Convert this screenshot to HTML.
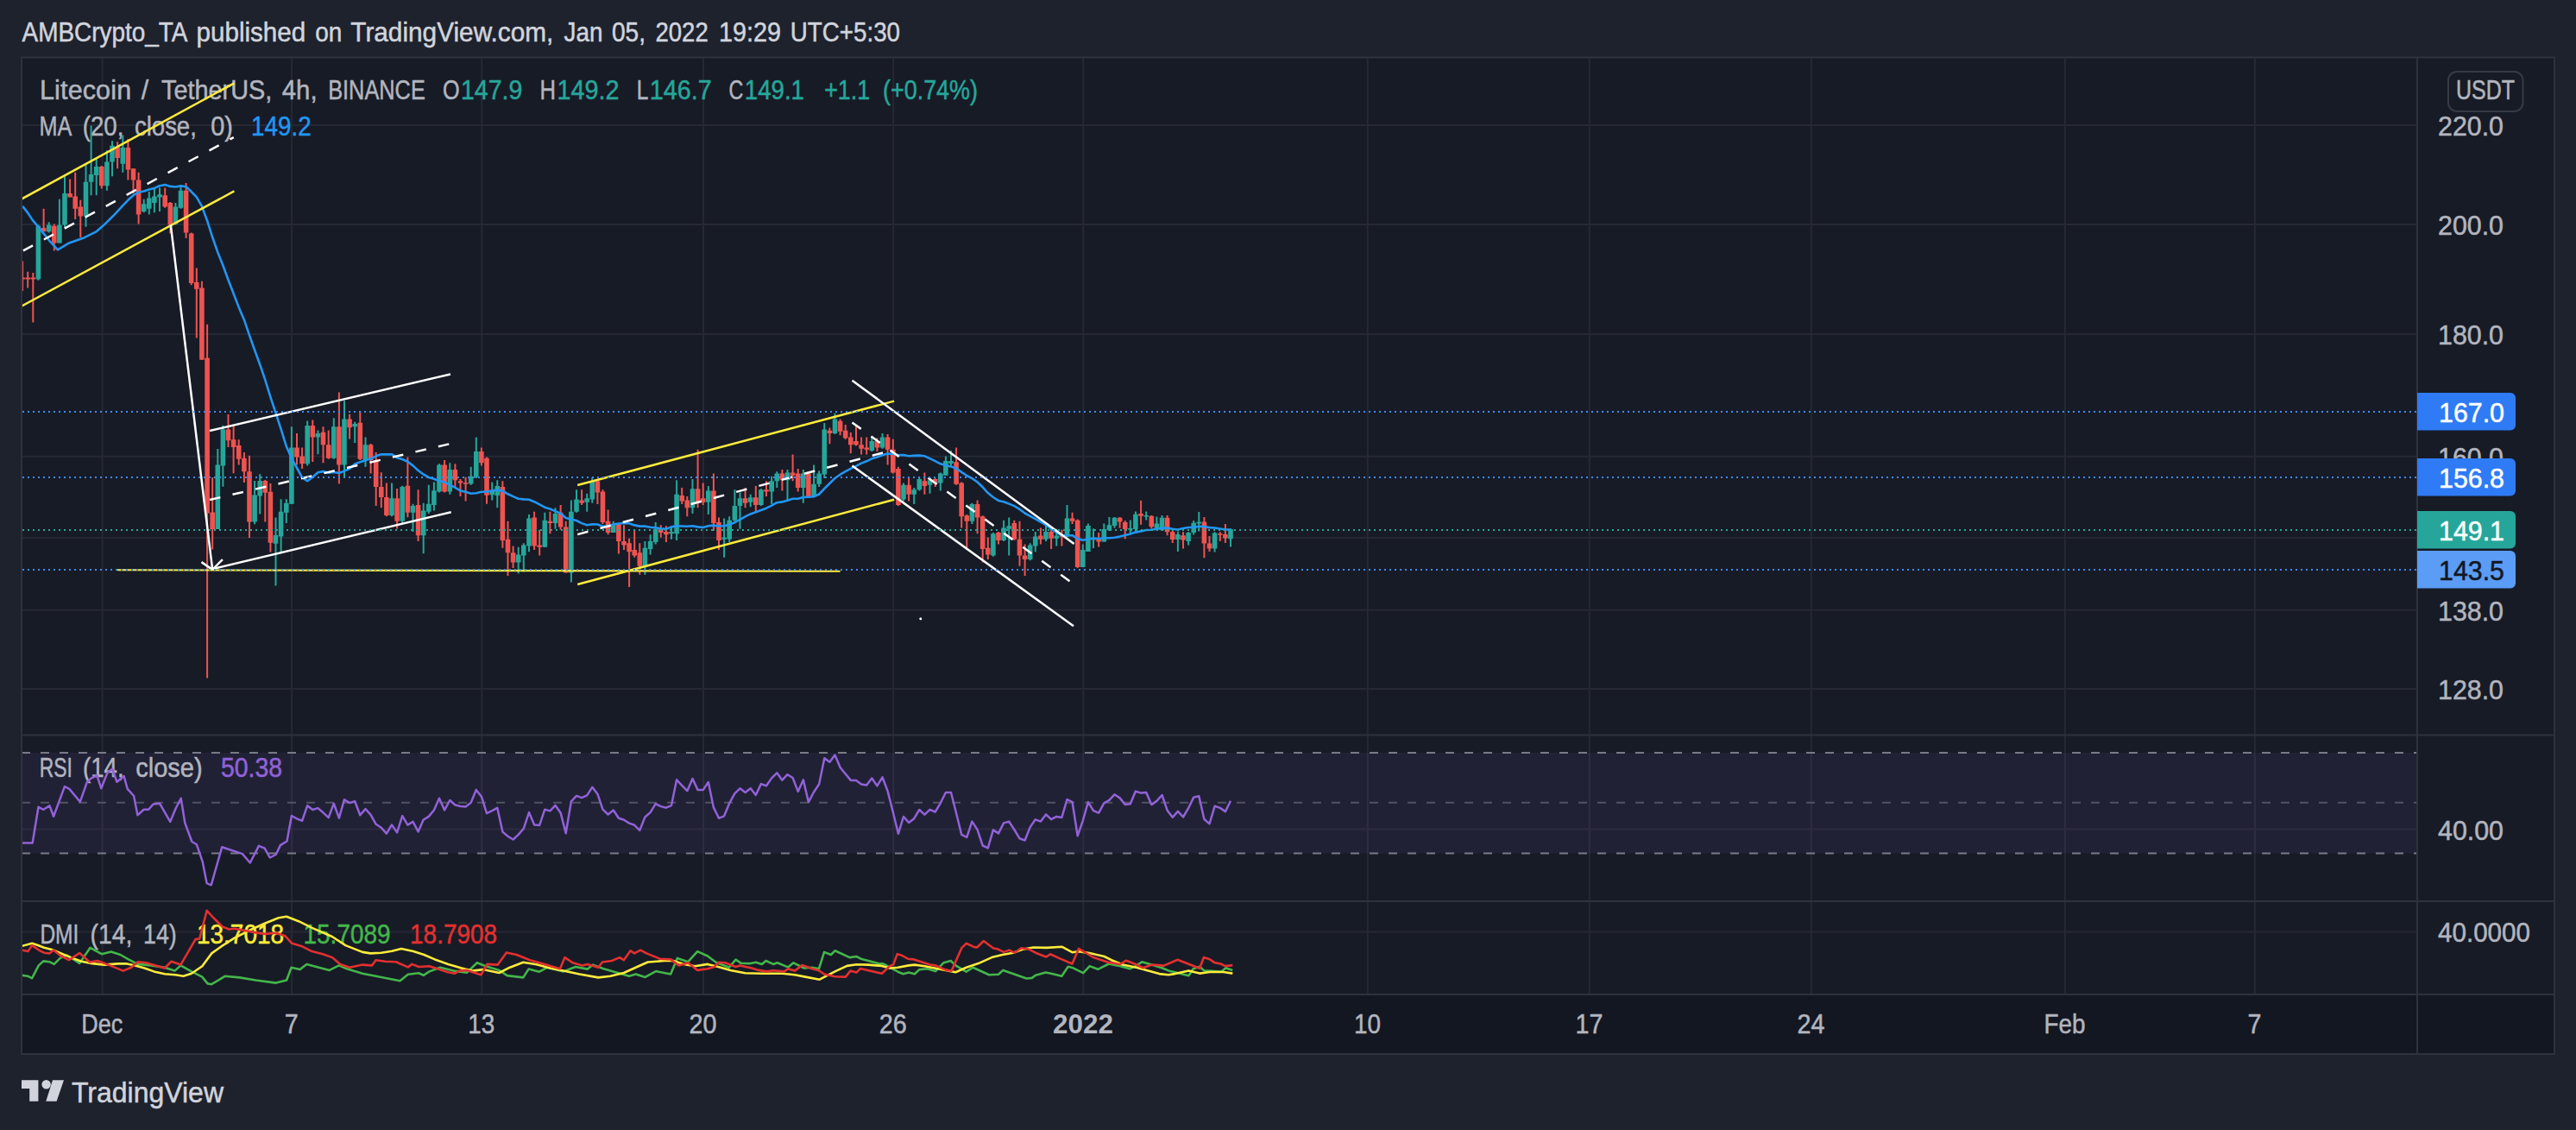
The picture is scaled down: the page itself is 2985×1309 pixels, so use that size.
<!DOCTYPE html>
<html><head><meta charset="utf-8"><style>html,body{margin:0;padding:0;background:#1e222d;overflow:hidden}svg{display:block}</style></head>
<body><svg width="2985" height="1309" viewBox="0 0 2985 1309" font-family='"Liberation Sans", sans-serif'><rect x="25" y="66.5" width="2935" height="1154.5" fill="#171b26"/><rect x="25" y="1152" width="2935" height="69" fill="#131722"/><defs><clipPath id="pp"><rect x="26" y="67.5" width="2774" height="783"/></clipPath><clipPath id="rp"><rect x="26" y="852.6" width="2774" height="190.4"/></clipPath><clipPath id="dp"><rect x="26" y="1045" width="2774" height="106"/></clipPath></defs><path d="M118.6 67V1152 M338.1 67V1152 M558.2 67V1152 M815.0 67V1152 M1035.2 67V1152 M1255.3 67V1152 M1584.8 67V1152 M1841.8 67V1152 M2098.8 67V1152 M2392.9 67V1152 M2612.9 67V1152 M25 144.9H2801 M25 260.1H2801 M25 387.0H2801 M25 528.8H2801 M25 623.0H2801 M25 706.8H2801 M25 797.9H2801 M25 960.6H2801 M25 1079.4H2801" stroke="#262834" stroke-width="2" fill="none"/><rect x="25" y="872" width="2776" height="116.6" fill="#7e57c2" fill-opacity="0.1"/><path d="M25 872H2801M25 988.6H2801" stroke="#787b86" stroke-width="2" stroke-dasharray="10 12" fill="none"/><path d="M25 929.7H2801" stroke="#787b86" stroke-opacity="0.55" stroke-width="2" stroke-dasharray="10 12" fill="none"/><path d="M25 66.5H2960V1221H25Z M2801 66.5V1221 M25 851.6H2960 M25 1044H2960 M25 1152H2960" stroke="#2e323d" stroke-width="2" fill="none"/><text x="25.5" y="48" font-size="30.5" fill="#d1d4dc" stroke="#d1d4dc" stroke-width="0.5" textLength="192.0" lengthAdjust="spacingAndGlyphs">AMBCrypto_TA</text><text x="227.5" y="48" font-size="30.5" fill="#d1d4dc" stroke="#d1d4dc" stroke-width="0.5" textLength="126.7" lengthAdjust="spacingAndGlyphs">published</text><text x="365.3" y="48" font-size="30.5" fill="#d1d4dc" stroke="#d1d4dc" stroke-width="0.5" textLength="31.1" lengthAdjust="spacingAndGlyphs">on</text><text x="406.3" y="48" font-size="30.5" fill="#d1d4dc" stroke="#d1d4dc" stroke-width="0.5" textLength="235.0" lengthAdjust="spacingAndGlyphs">TradingView.com,</text><text x="653.5" y="48" font-size="30.5" fill="#d1d4dc" stroke="#d1d4dc" stroke-width="0.5" textLength="44.9" lengthAdjust="spacingAndGlyphs">Jan</text><text x="708.9" y="48" font-size="30.5" fill="#d1d4dc" stroke="#d1d4dc" stroke-width="0.5" textLength="39.1" lengthAdjust="spacingAndGlyphs">05,</text><text x="759.5" y="48" font-size="30.5" fill="#d1d4dc" stroke="#d1d4dc" stroke-width="0.5" textLength="61.2" lengthAdjust="spacingAndGlyphs">2022</text><text x="832.9" y="48" font-size="30.5" fill="#d1d4dc" stroke="#d1d4dc" stroke-width="0.5" textLength="72.0" lengthAdjust="spacingAndGlyphs">19:29</text><text x="915.8" y="48" font-size="30.5" fill="#d1d4dc" stroke="#d1d4dc" stroke-width="0.5" textLength="127.2" lengthAdjust="spacingAndGlyphs">UTC+5:30</text><text x="46.0" y="115.2" font-size="30.5" fill="#b2b5be" stroke="#b2b5be" stroke-width="0.5" textLength="106.1" lengthAdjust="spacing">Litecoin</text><text x="163.8" y="115.2" font-size="30.5" fill="#b2b5be" stroke="#b2b5be" stroke-width="0.5">/</text><text x="187.0" y="115.2" font-size="30.5" fill="#b2b5be" stroke="#b2b5be" stroke-width="0.5" textLength="128.2" lengthAdjust="spacingAndGlyphs">TetherUS,</text><text x="326.8" y="115.2" font-size="30.5" fill="#b2b5be" stroke="#b2b5be" stroke-width="0.5" textLength="40.8" lengthAdjust="spacingAndGlyphs">4h,</text><text x="380.2" y="115.2" font-size="30.5" fill="#b2b5be" stroke="#b2b5be" stroke-width="0.5" textLength="112.6" lengthAdjust="spacingAndGlyphs">BINANCE</text><text x="513.0" y="115.2" font-size="30.5" fill="#b2b5be" stroke="#b2b5be" stroke-width="0.5" textLength="19.6" lengthAdjust="spacingAndGlyphs">O</text><text x="534.0" y="115.2" font-size="30.5" fill="#26a69a" stroke="#26a69a" stroke-width="0.5" textLength="71.4" lengthAdjust="spacingAndGlyphs">147.9</text><text x="625.5" y="115.2" font-size="30.5" fill="#b2b5be" stroke="#b2b5be" stroke-width="0.5" textLength="18.5" lengthAdjust="spacingAndGlyphs">H</text><text x="645.4" y="115.2" font-size="30.5" fill="#26a69a" stroke="#26a69a" stroke-width="0.5" textLength="72.0" lengthAdjust="spacingAndGlyphs">149.2</text><text x="737.8" y="115.2" font-size="30.5" fill="#b2b5be" stroke="#b2b5be" stroke-width="0.5" textLength="13.6" lengthAdjust="spacingAndGlyphs">L</text><text x="752.7" y="115.2" font-size="30.5" fill="#26a69a" stroke="#26a69a" stroke-width="0.5" textLength="72.0" lengthAdjust="spacingAndGlyphs">146.7</text><text x="844.6" y="115.2" font-size="30.5" fill="#b2b5be" stroke="#b2b5be" stroke-width="0.5" textLength="16.8" lengthAdjust="spacingAndGlyphs">C</text><text x="862.8" y="115.2" font-size="30.5" fill="#26a69a" stroke="#26a69a" stroke-width="0.5" textLength="69.2" lengthAdjust="spacingAndGlyphs">149.1</text><text x="955.2" y="115.2" font-size="30.5" fill="#26a69a" stroke="#26a69a" stroke-width="0.5" textLength="53.0" lengthAdjust="spacingAndGlyphs">+1.1</text><text x="1023.0" y="115.2" font-size="30.5" fill="#26a69a" stroke="#26a69a" stroke-width="0.5" textLength="110.0" lengthAdjust="spacingAndGlyphs">(+0.74%)</text><text x="45.4" y="156.5" font-size="30.5" fill="#b2b5be" stroke="#b2b5be" stroke-width="0.5" textLength="37.8" lengthAdjust="spacingAndGlyphs">MA</text><text x="95.8" y="156.5" font-size="30.5" fill="#b2b5be" stroke="#b2b5be" stroke-width="0.5" textLength="47.6" lengthAdjust="spacingAndGlyphs">(20,</text><text x="156.0" y="156.5" font-size="30.5" fill="#b2b5be" stroke="#b2b5be" stroke-width="0.5" textLength="71.8" lengthAdjust="spacingAndGlyphs">close,</text><text x="244.3" y="156.5" font-size="30.5" fill="#b2b5be" stroke="#b2b5be" stroke-width="0.5" textLength="25.7" lengthAdjust="spacingAndGlyphs">0)</text><text x="291.0" y="156.5" font-size="30.5" fill="#2196f3" stroke="#2196f3" stroke-width="0.5" textLength="69.8" lengthAdjust="spacingAndGlyphs">149.2</text><text x="45.8" y="900.3" font-size="30.5" fill="#b2b5be" stroke="#b2b5be" stroke-width="0.5" textLength="38.1" lengthAdjust="spacingAndGlyphs">RSI</text><text x="96.1" y="900.3" font-size="30.5" fill="#b2b5be" stroke="#b2b5be" stroke-width="0.5" textLength="47.5" lengthAdjust="spacingAndGlyphs">(14,</text><text x="157.2" y="900.3" font-size="30.5" fill="#b2b5be" stroke="#b2b5be" stroke-width="0.5" textLength="77.5" lengthAdjust="spacingAndGlyphs">close)</text><text x="255.9" y="900.3" font-size="30.5" fill="#9162d8" stroke="#9162d8" stroke-width="0.5" textLength="71.1" lengthAdjust="spacingAndGlyphs">50.38</text><text x="46.4" y="1092.8" font-size="30.5" fill="#b2b5be" stroke="#b2b5be" stroke-width="0.5" textLength="45.0" lengthAdjust="spacingAndGlyphs">DMI</text><text x="104.6" y="1092.8" font-size="30.5" fill="#b2b5be" stroke="#b2b5be" stroke-width="0.5" textLength="48.9" lengthAdjust="spacingAndGlyphs">(14,</text><text x="166.0" y="1092.8" font-size="30.5" fill="#b2b5be" stroke="#b2b5be" stroke-width="0.5" textLength="38.8" lengthAdjust="spacingAndGlyphs">14)</text><text x="228.0" y="1092.8" font-size="30.5" fill="#ffeb3b" stroke="#ffeb3b" stroke-width="0.5" textLength="101.0" lengthAdjust="spacingAndGlyphs">13.7018</text><text x="351.5" y="1092.8" font-size="30.5" fill="#43b64a" stroke="#43b64a" stroke-width="0.5" textLength="101.1" lengthAdjust="spacingAndGlyphs">15.7089</text><text x="475.1" y="1092.8" font-size="30.5" fill="#e3302f" stroke="#e3302f" stroke-width="0.5" textLength="100.9" lengthAdjust="spacingAndGlyphs">18.7908</text><g clip-path="url(#pp)"><path d="M44.4 260.6V324.7 M56.7 257.3V269.4 M68.9 230.7V281.6 M75.0 204.2V263.9 M99.5 189.8V262.8 M105.6 145.5V226.3 M111.7 183.1V226.3 M123.9 174.3V220.8 M130.0 163.2V204.2 M142.3 156.6V199.7 M166.7 230.7V246.2 M172.8 221.9V248.4 M178.9 218.5V246.2 M185.0 217.4V245.1 M203.4 235.1V260.6 M209.5 215.2V241.8 M252.3 520.0V613.0 M258.4 492.7V563.8 M295.1 557.0V607.3 M301.2 549.2V595.6 M319.5 599.5V678.4 M325.6 578.3V641.3 M331.8 578.3V605.9 M337.9 494.2V583.8 M356.2 487.6V539.6 M368.4 498.6V526.3 M386.8 484.2V531.8 M399.0 464.3V553.9 M411.2 488.7V513.0 M423.5 506.4V540.7 M454.0 559.5V598.2 M466.2 562.8V605.9 M478.5 583.8V615.9 M490.7 582.7V641.3 M496.8 561.7V594.9 M502.9 558.4V591.5 M509.0 537.3V570.5 M521.3 536.2V572.7 M545.7 540.7V561.7 M551.8 506.4V553.9 M570.2 558.5V579.5 M576.3 556.2V588.3 M600.7 633.7V664.6 M606.8 629.2V662.4 M613.0 596.1V639.2 M631.3 593.8V633.7 M643.5 588.3V612.7 M661.9 579.5V674.6 M668.0 567.3V593.8 M680.2 571.7V592.7 M686.3 552.9V582.8 M710.8 603.8V617.1 M747.4 627.0V665.8 M753.6 619.3V642.5 M759.7 604.9V630.4 M778.0 610.4V624.8 M784.1 556.2V625.9 M802.5 555.1V595.0 M820.8 562.9V596.1 M839.1 600.5V645.8 M845.2 598.3V628.1 M851.4 567.3V603.8 M857.5 570.6V612.7 M869.7 572.8V587.2 M881.9 566.2V586.1 M894.2 551.8V583.9 M900.3 546.3V565.1 M912.5 544.1V580.6 M930.8 544.1V582.8 M943.1 538.5V575.0 M949.2 545.2V564.0 M955.3 489.9V554.0 M967.5 478.8V503.1 M1010.3 505.4V523.1 M1022.5 502.0V519.7 M1047.0 559.6V580.6 M1059.2 565.1V583.9 M1065.3 552.9V568.4 M1077.5 552.9V571.7 M1089.8 547.4V568.4 M1095.9 528.6V550.7 M1102.0 521.9V539.6 M1126.4 582.8V607.1 M1150.9 617.1V644.7 M1163.1 602.7V627.0 M1169.2 599.4V643.6 M1193.7 629.2V649.2 M1199.8 616.0V639.2 M1212.0 607.1V627.0 M1224.3 612.7V632.6 M1236.5 585.0V622.6 M1254.8 630.4V656.9 M1260.9 606.4V638.9 M1267.0 612.3V634.9 M1279.3 606.4V627.6 M1285.4 599.1V615.0 M1291.5 599.1V611.7 M1309.8 602.4V617.6 M1315.9 592.4V616.3 M1328.2 592.4V602.4 M1340.4 598.4V612.3 M1346.5 597.1V615.0 M1364.9 615.6V638.9 M1377.1 616.3V631.6 M1383.2 603.0V619.6 M1389.3 593.1V615.6 M1407.6 616.3V639.5 M1426.0 612.3V633.6" stroke="#26a69a" stroke-width="2" fill="none"/><path d="M26.1 302.6V336.9 M32.2 314.8V333.6 M38.3 315.9V373.4 M50.6 241.8V268.3 M62.8 259.5V290.4 M81.1 207.5V228.5 M87.2 199.7V253.9 M93.3 231.8V275.0 M117.8 192.0V218.5 M136.1 164.3V195.3 M148.4 161.0V208.6 M154.5 195.3V224.1 M160.6 199.7V259.5 M191.2 217.4V240.7 M197.3 234.0V270.5 M215.6 211.9V276.1 M221.7 269.4V330.3 M227.8 310.5V391.4 M233.9 325.8V416.8 M240.1 375.8V785.5 M246.2 553.0V636.5 M264.5 480.0V518.0 M270.6 491.8V548.3 M276.7 509.3V538.5 M282.9 523.9V559.0 M289.0 527.8V622.9 M307.3 556.0V604.4 M313.4 560.0V639.4 M344.0 501.9V538.5 M350.1 518.5V542.9 M362.3 486.5V535.1 M374.5 494.2V536.2 M380.7 498.6V531.8 M392.9 454.4V560.6 M405.1 479.8V508.6 M417.3 476.5V532.9 M429.6 514.1V548.4 M435.7 524.1V586.0 M441.8 547.3V588.2 M447.9 559.5V598.2 M460.1 566.1V612.6 M472.4 529.6V599.3 M484.6 567.2V626.9 M515.1 532.9V570.5 M527.4 537.3V563.9 M533.5 555.0V575.0 M539.6 552.8V580.5 M557.9 518.5V539.6 M564.0 529.6V583.8 M582.4 557.3V634.8 M588.5 603.8V666.9 M594.6 632.6V658.0 M619.1 592.7V637.0 M625.2 613.8V643.6 M637.4 592.7V618.2 M649.6 585.0V613.8 M655.7 603.8V663.5 M674.1 567.3V585.0 M692.4 556.2V583.9 M698.5 567.3V607.1 M704.6 590.5V619.3 M716.9 606.0V641.4 M723.0 608.2V637.0 M729.1 623.7V680.1 M735.2 613.8V645.8 M741.3 629.2V665.8 M765.8 608.2V622.6 M771.9 609.3V628.1 M790.2 565.1V583.9 M796.3 575.0V598.3 M808.6 520.8V588.3 M814.7 559.6V585.0 M826.9 548.5V614.9 M833.0 599.4V637.0 M863.6 565.1V588.3 M875.8 562.9V592.7 M888.0 557.3V575.0 M906.4 544.1V568.4 M918.6 526.4V557.3 M924.7 543.0V569.5 M936.9 547.4V576.2 M961.4 495.4V514.2 M973.6 485.4V504.2 M979.7 492.1V508.7 M985.8 500.9V525.3 M992.0 493.2V516.4 M998.1 506.5V526.4 M1004.2 506.5V526.4 M1016.4 507.6V523.1 M1028.6 503.1V538.5 M1034.8 508.7V548.5 M1040.9 540.8V586.1 M1053.1 554.0V580.6 M1071.4 547.4V572.8 M1083.7 554.0V564.0 M1108.1 518.6V561.8 M1114.2 558.5V611.5 M1120.3 596.1V637.0 M1132.6 579.5V618.2 M1138.7 597.2V651.4 M1144.8 622.6V648.1 M1157.0 616.0V630.4 M1175.3 602.7V625.9 M1181.5 603.8V655.8 M1187.6 630.4V666.9 M1205.9 611.5V630.4 M1218.1 612.7V635.9 M1230.4 613.8V632.6 M1242.6 593.8V607.1 M1248.7 601.6V658.0 M1273.2 617.0V633.6 M1297.6 599.1V611.7 M1303.7 603.0V624.3 M1322.1 579.8V607.7 M1334.3 597.1V612.3 M1352.6 597.1V620.3 M1358.7 614.3V628.9 M1371.0 616.3V635.6 M1395.4 599.1V646.2 M1401.5 621.0V638.9 M1413.8 616.3V626.9 M1419.9 607.0V628.9" stroke="#ef5350" stroke-width="2" fill="none"/><path d="M41.6 261.7h5.6V323.6h-5.6Z M53.9 260.6h5.6V268.3h-5.6Z M66.1 260.6h5.6V281.6h-5.6Z M72.2 224.1h5.6V260.6h-5.6Z M96.7 210.8h5.6V250.6h-5.6Z M102.8 201.9h5.6V210.8h-5.6Z M108.9 193.1h5.6V203.1h-5.6Z M121.1 187.6h5.6V215.2h-5.6Z M127.2 168.8h5.6V187.6h-5.6Z M139.5 171.0h5.6V189.8h-5.6Z M163.9 236.2h5.6V245.1h-5.6Z M170.0 229.6h5.6V241.8h-5.6Z M176.1 227.4h5.6V235.1h-5.6Z M182.2 225.2h5.6V228.5h-5.6Z M200.6 239.6h5.6V259.5h-5.6Z M206.7 220.8h5.6V240.7h-5.6Z M249.5 538.5h5.6V613.0h-5.6Z M255.6 497.6h5.6V539.5h-5.6Z M292.3 573.6h5.6V604.4h-5.6Z M298.4 557.0h5.6V574.6h-5.6Z M316.7 620.0h5.6V629.7h-5.6Z M322.8 592.7h5.6V621.4h-5.6Z M329.0 582.7h5.6V593.8h-5.6Z M335.1 518.5h5.6V583.8h-5.6Z M353.4 493.1h5.6V537.3h-5.6Z M365.6 501.9h5.6V506.4h-5.6Z M384.0 494.2h5.6V530.7h-5.6Z M396.2 485.4h5.6V538.5h-5.6Z M408.4 490.9h5.6V494.2h-5.6Z M420.7 515.2h5.6V532.9h-5.6Z M451.2 577.2h5.6V597.1h-5.6Z M463.4 563.9h5.6V603.7h-5.6Z M475.7 586.0h5.6V593.8h-5.6Z M487.9 591.5h5.6V620.3h-5.6Z M494.0 583.8h5.6V592.7h-5.6Z M500.1 568.3h5.6V584.9h-5.6Z M506.2 538.5h5.6V569.4h-5.6Z M518.5 544.0h5.6V569.4h-5.6Z M542.9 551.7h5.6V560.6h-5.6Z M549.0 523.0h5.6V552.8h-5.6Z M567.4 568.4h5.6V573.3h-5.6Z M573.5 562.9h5.6V573.9h-5.6Z M597.9 642.5h5.6V651.4h-5.6Z M604.0 631.5h5.6V643.6h-5.6Z M610.2 600.5h5.6V632.6h-5.6Z M628.5 602.7h5.6V633.7h-5.6Z M640.7 595.0h5.6V606.0h-5.6Z M659.1 592.7h5.6V663.5h-5.6Z M665.2 578.4h5.6V592.7h-5.6Z M677.4 577.3h5.6V581.7h-5.6Z M683.5 557.3h5.6V578.4h-5.6Z M708.0 608.2h5.6V617.1h-5.6Z M744.6 634.8h5.6V655.8h-5.6Z M750.8 627.0h5.6V635.9h-5.6Z M756.9 612.7h5.6V628.1h-5.6Z M775.2 616.0h5.6V618.2h-5.6Z M781.3 572.8h5.6V618.2h-5.6Z M799.7 566.2h5.6V588.3h-5.6Z M818.0 568.4h5.6V581.7h-5.6Z M836.3 622.6h5.6V624.8h-5.6Z M842.4 602.7h5.6V624.8h-5.6Z M848.6 586.1h5.6V602.7h-5.6Z M854.7 577.3h5.6V586.1h-5.6Z M866.9 576.2h5.6V581.7h-5.6Z M879.1 567.3h5.6V585.0h-5.6Z M891.4 557.3h5.6V569.5h-5.6Z M897.5 548.5h5.6V557.3h-5.6Z M909.7 547.4h5.6V556.2h-5.6Z M928.0 548.5h5.6V565.1h-5.6Z M940.3 560.7h5.6V575.0h-5.6Z M946.4 548.5h5.6V560.7h-5.6Z M952.5 497.6h5.6V549.6h-5.6Z M964.7 485.4h5.6V502.0h-5.6Z M1007.5 510.9h5.6V521.9h-5.6Z M1019.7 506.5h5.6V518.6h-5.6Z M1044.2 561.8h5.6V578.4h-5.6Z M1056.4 567.3h5.6V572.8h-5.6Z M1062.5 555.1h5.6V567.3h-5.6Z M1074.7 556.2h5.6V561.8h-5.6Z M1087.0 548.5h5.6V559.6h-5.6Z M1093.1 534.1h5.6V550.7h-5.6Z M1099.2 534.1h5.6V537.0h-5.6Z M1123.6 583.9h5.6V603.8h-5.6Z M1148.1 618.2h5.6V643.6h-5.6Z M1160.3 611.5h5.6V625.9h-5.6Z M1166.4 609.3h5.6V612.7h-5.6Z M1190.9 631.5h5.6V648.1h-5.6Z M1197.0 621.5h5.6V632.6h-5.6Z M1209.2 616.0h5.6V624.8h-5.6Z M1221.5 620.4h5.6V623.7h-5.6Z M1233.7 600.5h5.6V621.5h-5.6Z M1252.0 637.0h5.6V656.9h-5.6Z M1258.1 609.0h5.6V638.9h-5.6Z M1264.2 623.6h5.6V625.6h-5.6Z M1276.5 613.0h5.6V627.6h-5.6Z M1282.6 608.3h5.6V614.3h-5.6Z M1288.7 599.7h5.6V609.0h-5.6Z M1307.0 611.9h5.6V613.4h-5.6Z M1313.1 595.7h5.6V613.0h-5.6Z M1325.4 597.0h5.6V598.5h-5.6Z M1337.6 606.4h5.6V611.7h-5.6Z M1343.7 599.7h5.6V614.3h-5.6Z M1362.1 619.0h5.6V624.9h-5.6Z M1374.3 617.0h5.6V626.9h-5.6Z M1380.4 605.7h5.6V617.0h-5.6Z M1386.5 604.4h5.6V606.4h-5.6Z M1404.8 617.6h5.6V635.6h-5.6Z M1423.2 613.0h5.6V624.3h-5.6Z" fill="#26a69a"/><path d="M23.3 321.4h5.6V323.6h-5.6Z M29.4 321.4h5.6V323.6h-5.6Z M35.5 321.4h5.6V323.6h-5.6Z M47.8 263.9h5.6V268.3h-5.6Z M60.0 261.7h5.6V281.6h-5.6Z M78.3 224.1h5.6V228.5h-5.6Z M84.4 227.4h5.6V241.8h-5.6Z M90.5 239.6h5.6V250.6h-5.6Z M115.0 193.1h5.6V215.2h-5.6Z M133.3 169.9h5.6V183.1h-5.6Z M145.6 171.0h5.6V196.4h-5.6Z M151.7 195.3h5.6V208.6h-5.6Z M157.8 208.6h5.6V248.4h-5.6Z M188.4 226.3h5.6V239.6h-5.6Z M194.5 235.1h5.6V260.6h-5.6Z M212.8 220.8h5.6V269.4h-5.6Z M218.9 270.5h5.6V328.1h-5.6Z M225.0 327.0h5.6V334.7h-5.6Z M231.1 333.6h5.6V416.8h-5.6Z M237.3 414.8h5.6V594.6h-5.6Z M243.4 593.6h5.6V613.0h-5.6Z M261.7 497.6h5.6V510.3h-5.6Z M267.8 509.3h5.6V518.0h-5.6Z M273.9 516.0h5.6V531.7h-5.6Z M280.1 530.7h5.6V546.3h-5.6Z M286.2 546.3h5.6V604.4h-5.6Z M304.5 557.0h5.6V570.7h-5.6Z M310.6 569.7h5.6V628.7h-5.6Z M341.2 518.5h5.6V529.6h-5.6Z M347.3 528.5h5.6V537.3h-5.6Z M359.5 493.1h5.6V506.4h-5.6Z M371.7 500.8h5.6V515.2h-5.6Z M377.9 515.2h5.6V530.7h-5.6Z M390.1 494.2h5.6V538.5h-5.6Z M402.3 485.4h5.6V495.3h-5.6Z M414.5 489.8h5.6V531.8h-5.6Z M426.8 515.2h5.6V532.9h-5.6Z M432.9 532.9h5.6V563.9h-5.6Z M439.0 563.9h5.6V576.1h-5.6Z M445.1 576.1h5.6V597.1h-5.6Z M457.3 577.2h5.6V603.7h-5.6Z M469.6 562.8h5.6V593.8h-5.6Z M481.8 584.9h5.6V620.3h-5.6Z M512.3 538.5h5.6V569.4h-5.6Z M524.6 544.0h5.6V556.2h-5.6Z M530.7 557.3h5.6V559.5h-5.6Z M536.8 559.3h5.6V560.8h-5.6Z M555.1 523.0h5.6V536.2h-5.6Z M561.2 530.7h5.6V573.8h-5.6Z M579.6 564.0h5.6V625.9h-5.6Z M585.7 624.8h5.6V640.3h-5.6Z M591.8 640.3h5.6V651.4h-5.6Z M616.3 599.4h5.6V632.6h-5.6Z M622.4 631.5h5.6V633.7h-5.6Z M634.6 603.8h5.6V606.0h-5.6Z M646.8 593.8h5.6V610.4h-5.6Z M652.9 610.4h5.6V663.5h-5.6Z M671.3 579.5h5.6V582.8h-5.6Z M689.6 557.3h5.6V570.6h-5.6Z M695.7 569.5h5.6V604.9h-5.6Z M701.8 603.8h5.6V617.1h-5.6Z M714.1 607.1h5.6V627.0h-5.6Z M720.2 627.0h5.6V631.5h-5.6Z M726.3 629.2h5.6V639.2h-5.6Z M732.4 637.0h5.6V643.6h-5.6Z M738.5 640.3h5.6V655.8h-5.6Z M763.0 612.7h5.6V617.1h-5.6Z M769.1 616.0h5.6V619.3h-5.6Z M787.4 573.9h5.6V580.6h-5.6Z M793.5 579.5h5.6V588.3h-5.6Z M805.8 566.2h5.6V581.7h-5.6Z M811.9 577.3h5.6V581.7h-5.6Z M824.1 568.4h5.6V606.0h-5.6Z M830.2 604.9h5.6V625.9h-5.6Z M860.8 577.3h5.6V582.8h-5.6Z M873.0 576.2h5.6V585.0h-5.6Z M885.2 567.3h5.6V569.5h-5.6Z M903.6 548.5h5.6V556.2h-5.6Z M915.8 547.4h5.6V550.7h-5.6Z M921.9 548.5h5.6V565.1h-5.6Z M934.1 548.5h5.6V575.0h-5.6Z M958.6 498.7h5.6V502.0h-5.6Z M970.8 487.7h5.6V499.8h-5.6Z M976.9 498.7h5.6V507.6h-5.6Z M983.0 506.5h5.6V515.3h-5.6Z M989.2 510.9h5.6V515.3h-5.6Z M995.3 515.3h5.6V519.7h-5.6Z M1001.4 518.6h5.6V520.8h-5.6Z M1013.6 510.9h5.6V518.6h-5.6Z M1025.8 506.5h5.6V520.8h-5.6Z M1032.0 520.8h5.6V547.4h-5.6Z M1038.1 543.0h5.6V585.0h-5.6Z M1050.3 561.8h5.6V572.8h-5.6Z M1068.6 557.3h5.6V562.9h-5.6Z M1080.9 555.1h5.6V559.6h-5.6Z M1105.3 535.2h5.6V560.7h-5.6Z M1111.4 559.6h5.6V598.3h-5.6Z M1117.5 597.2h5.6V603.8h-5.6Z M1129.8 583.9h5.6V599.4h-5.6Z M1135.9 598.3h5.6V635.9h-5.6Z M1142.0 634.8h5.6V642.5h-5.6Z M1154.2 617.1h5.6V625.9h-5.6Z M1172.5 606.0h5.6V624.8h-5.6Z M1178.7 624.8h5.6V643.6h-5.6Z M1184.8 643.6h5.6V648.1h-5.6Z M1203.1 620.4h5.6V624.8h-5.6Z M1215.3 616.0h5.6V623.7h-5.6Z M1227.6 620.2h5.6V621.7h-5.6Z M1239.8 600.5h5.6V603.8h-5.6Z M1245.9 602.7h5.6V656.9h-5.6Z M1270.4 622.9h5.6V627.6h-5.6Z M1294.8 599.7h5.6V604.4h-5.6Z M1300.9 605.0h5.6V613.0h-5.6Z M1319.3 595.1h5.6V597.7h-5.6Z M1331.5 597.7h5.6V610.3h-5.6Z M1349.8 599.7h5.6V616.3h-5.6Z M1355.9 616.3h5.6V624.9h-5.6Z M1368.2 620.3h5.6V625.6h-5.6Z M1392.6 604.4h5.6V629.6h-5.6Z M1398.7 629.6h5.6V635.6h-5.6Z M1411.0 618.2h5.6V619.7h-5.6Z M1417.1 619.0h5.6V623.6h-5.6Z" fill="#ef5350"/><path d="M26.2 238.9 L32.4 246.9 L37.7 254.9 L43.0 261.1 L50.1 269.9 L57.2 278.8 L66.9 289.4 L80.2 281.4 L97.9 275.2 L112.0 268.1 L120.0 261.1 L131.5 249.8 L142.3 238.1 L148.4 231.8 L154.5 226.2 L160.6 222.7 L166.7 221.4 L172.8 219.5 L178.9 217.9 L185.0 215.2 L191.2 214.1 L197.3 215.9 L203.4 216.5 L209.5 215.4 L215.6 216.3 L221.7 222.0 L227.8 228.4 L233.9 238.9 L240.1 255.7 L246.2 274.8 L252.3 292.3 L258.4 307.5 L264.5 324.2 L270.6 340.0 L276.7 355.9 L282.9 370.4 L289.0 388.3 L295.1 405.5 L301.2 422.3 L307.3 440.1 L313.4 459.9 L319.5 478.4 L325.6 497.2 L331.8 517.0 L337.9 530.9 L344.0 542.0 L350.1 553.1 L356.2 557.2 L362.3 552.8 L368.4 547.3 L374.5 546.1 L380.7 547.8 L386.8 547.0 L392.9 548.0 L399.0 545.6 L405.1 543.0 L411.2 537.4 L417.3 535.3 L423.5 533.2 L429.6 531.4 L435.7 528.3 L441.8 526.2 L447.9 526.4 L454.0 526.2 L460.1 530.3 L466.2 532.0 L472.4 534.7 L478.5 539.4 L484.6 545.0 L490.7 549.5 L496.8 552.9 L502.9 554.8 L509.0 557.1 L515.1 558.6 L521.3 561.7 L527.4 564.8 L533.5 568.4 L539.6 569.8 L545.7 571.7 L551.8 571.2 L557.9 569.8 L564.0 569.7 L570.2 568.3 L576.3 567.5 L582.4 568.6 L588.5 572.3 L594.6 575.1 L600.7 577.8 L606.8 578.4 L613.0 578.8 L619.1 581.2 L625.2 584.4 L631.3 587.7 L637.4 589.5 L643.5 592.1 L649.6 594.8 L655.7 600.0 L661.9 601.6 L668.0 603.0 L674.1 606.1 L680.2 608.3 L686.3 607.4 L692.4 607.5 L698.5 609.7 L704.6 609.2 L710.8 607.6 L716.9 606.5 L723.0 605.9 L729.1 606.3 L735.2 608.4 L741.3 609.6 L747.4 609.6 L753.6 610.8 L759.7 611.2 L765.8 612.3 L771.9 612.7 L778.0 610.4 L784.1 609.4 L790.2 609.5 L796.3 609.8 L802.5 609.2 L808.6 610.4 L814.7 611.0 L820.8 609.2 L826.9 608.6 L833.0 609.5 L839.1 609.3 L845.2 607.8 L851.4 605.2 L857.5 601.9 L863.6 598.3 L869.7 595.4 L875.8 593.3 L881.9 591.0 L888.0 588.7 L894.2 585.6 L900.3 582.2 L906.4 581.4 L912.5 579.7 L918.6 577.8 L924.7 577.7 L930.8 576.0 L936.9 575.7 L943.1 575.3 L949.2 572.5 L955.3 566.0 L961.4 560.0 L967.5 554.0 L973.6 549.7 L979.7 546.2 L985.8 542.8 L992.0 539.8 L998.1 536.6 L1004.2 534.3 L1010.3 531.3 L1016.4 529.4 L1022.5 527.3 L1028.6 525.6 L1034.8 525.6 L1040.9 527.2 L1047.0 527.1 L1053.1 528.2 L1059.2 527.9 L1065.3 527.6 L1071.4 528.3 L1077.5 531.2 L1083.7 534.1 L1089.8 537.3 L1095.9 539.1 L1102.0 540.4 L1108.1 542.7 L1114.2 546.8 L1120.3 551.0 L1126.4 554.1 L1132.6 558.5 L1138.7 564.3 L1144.8 571.1 L1150.9 576.0 L1157.0 579.9 L1163.1 581.2 L1169.2 583.6 L1175.3 586.1 L1181.5 589.9 L1187.6 594.5 L1193.7 597.9 L1199.8 601.2 L1205.9 604.5 L1212.0 608.0 L1218.1 612.6 L1224.3 617.0 L1230.4 620.1 L1236.5 620.2 L1242.6 620.2 L1248.7 623.9 L1254.8 625.8 L1260.9 624.4 L1267.0 623.5 L1273.2 624.0 L1279.3 623.3 L1285.4 623.2 L1291.5 622.7 L1297.6 621.6 L1303.7 620.1 L1309.8 618.4 L1315.9 616.6 L1322.1 615.4 L1328.2 614.0 L1334.3 613.7 L1340.4 612.8 L1346.5 611.8 L1352.6 611.5 L1358.7 612.8 L1364.9 613.5 L1371.0 612.0 L1377.1 611.0 L1383.2 610.8 L1389.3 609.9 L1395.4 610.0 L1401.5 611.1 L1407.6 611.5 L1413.8 612.5 L1419.9 613.5 L1426.0 613.5" stroke="#2196f3" stroke-width="2.6" fill="none" stroke-linejoin="round"/><path d="M0 244.2L271.4 96.3" stroke="#ffeb3b" stroke-width="2.5" fill="none"/><path d="M0 368.2L271.4 221.4" stroke="#ffeb3b" stroke-width="2.5" fill="none"/><path d="M26.9 290.4L270.8 159.1" stroke="#ffffff" stroke-width="2.5" fill="none" stroke-dasharray="12.7 14.5"/><path d="M197.8 260.5L246.2 659.9" stroke="#ffffff" stroke-width="2.5" fill="none"/><path d="M233.5 651.1L246.2 659.9" stroke="#ffffff" stroke-width="2.5" fill="none"/><path d="M257.9 648.2L246.2 659.9" stroke="#ffffff" stroke-width="2.5" fill="none"/><path d="M243 499L522 433.5" stroke="#ffffff" stroke-width="2.5" fill="none"/><path d="M248 658.7L522.7 593.2" stroke="#ffffff" stroke-width="2.5" fill="none"/><path d="M243 579L521.3 514.1" stroke="#ffffff" stroke-width="2.5" fill="none" stroke-dasharray="12.7 14.5"/><path d="M136 660.2L973.6 661.8" stroke="#ffeb3b" stroke-width="2.1" fill="none"/><path d="M669.2 562L1036.1 464.6" stroke="#ffeb3b" stroke-width="2.5" fill="none"/><path d="M669.2 677L1036.1 578.7" stroke="#ffeb3b" stroke-width="2.5" fill="none"/><path d="M669.2 619.1L1036 521" stroke="#ffffff" stroke-width="2.5" fill="none" stroke-dasharray="12.7 14.5"/><path d="M987.5 440.7L1244.6 630" stroke="#ffffff" stroke-width="2.5" fill="none"/><path d="M987.5 539.5L1244 725.3" stroke="#ffffff" stroke-width="2.5" fill="none"/><path d="M987.5 489.4L1241.8 674.9" stroke="#ffffff" stroke-width="2.5" fill="none" stroke-dasharray="12.7 14.5"/><circle cx="1066.8" cy="716.8" r="1.5" fill="#fff"/></g><path d="M26 477H2801M26 553H2801M26 660H2801" stroke="#3d8af7" stroke-width="2" stroke-dasharray="2 4" fill="none"/><path d="M26 614H2801" stroke="#26a69a" stroke-width="2" stroke-dasharray="2 4" fill="none"/><g clip-path="url(#rp)"><path d="M25.4 976.4 L37.7 976.4 L44.5 934.8 L50.4 937.8 L57.5 933.4 L62.1 945.7 L74.9 911.1 L80.3 913.9 L92.8 928.8 L101.0 905.7 L105.6 901.6 L112.4 898.4 L117.3 913.3 L124.6 894.8 L130.1 890.8 L135.5 905.7 L143.6 899.0 L147.7 913.9 L155.1 922.0 L159.4 944.3 L166.7 937.8 L172.2 937.8 L177.6 931.5 L185.0 930.7 L197.2 951.9 L203.4 937.0 L209.7 924.7 L214.3 953.3 L222.4 975.0 L227.9 978.3 L234.7 998.1 L239.6 1023.1 L244.7 1025.3 L257.2 981.3 L280.9 989.1 L289.8 999.5 L299.9 979.9 L306.7 982.6 L312.7 993.5 L319.7 990.0 L324.9 979.1 L332.5 974.5 L337.9 945.0 L344.0 948.4 L350.1 950.8 L356.2 933.2 L362.3 938.0 L368.4 936.1 L374.5 941.3 L380.7 947.1 L386.8 930.8 L392.9 947.6 L399.0 926.2 L405.1 930.1 L411.2 928.3 L417.3 944.3 L423.5 937.1 L429.6 943.9 L435.7 954.8 L441.8 958.8 L447.9 965.6 L454.0 955.5 L460.1 964.4 L466.2 945.1 L472.4 955.6 L478.5 951.9 L484.6 963.4 L490.7 949.6 L496.8 945.9 L502.9 938.5 L509.0 924.7 L515.1 938.4 L521.3 927.0 L527.4 932.5 L533.5 934.0 L539.6 934.5 L545.7 929.7 L551.8 914.9 L557.9 922.7 L564.0 942.1 L570.2 939.1 L576.3 935.9 L582.4 963.6 L588.5 968.7 L594.6 972.5 L600.7 966.9 L606.8 959.8 L613.0 941.1 L619.1 955.4 L625.2 955.9 L631.3 937.7 L637.4 939.4 L643.5 932.9 L649.6 941.4 L655.7 965.2 L661.9 928.3 L668.0 921.9 L674.1 924.1 L680.2 921.4 L686.3 911.8 L692.4 919.7 L698.5 937.7 L704.6 943.5 L710.8 938.5 L716.9 947.7 L723.0 949.8 L729.1 953.6 L735.2 955.8 L741.3 961.9 L747.4 946.5 L753.6 941.1 L759.7 931.2 L765.8 934.1 L771.9 935.7 L778.0 933.1 L784.1 903.3 L790.2 909.8 L796.3 916.2 L802.5 902.0 L808.6 915.1 L814.7 915.1 L820.8 906.0 L826.9 935.4 L833.0 947.8 L839.1 945.3 L845.2 930.5 L851.4 919.2 L857.5 913.3 L863.6 917.9 L869.7 913.2 L875.8 921.0 L881.9 908.1 L888.0 910.2 L894.2 901.4 L900.3 895.3 L906.4 903.7 L912.5 897.2 L918.6 901.0 L924.7 916.9 L930.8 903.4 L936.9 929.1 L943.1 917.5 L949.2 908.3 L955.3 878.3 L961.4 882.8 L967.5 874.5 L973.6 889.0 L979.7 896.5 L985.8 903.9 L992.0 903.9 L998.1 908.4 L1004.2 909.6 L1010.3 901.5 L1016.4 910.4 L1022.5 900.3 L1028.6 916.4 L1034.8 940.8 L1040.9 965.8 L1047.0 946.0 L1053.1 952.9 L1059.2 948.2 L1065.3 938.0 L1071.4 943.6 L1077.5 937.8 L1083.7 940.5 L1089.8 930.3 L1095.9 918.0 L1102.0 918.0 L1108.1 942.0 L1114.2 966.8 L1120.3 969.9 L1126.4 951.6 L1132.6 961.1 L1138.7 979.5 L1144.8 982.4 L1150.9 961.4 L1157.0 965.4 L1163.1 953.4 L1169.2 951.6 L1175.3 961.0 L1181.5 971.3 L1187.6 973.5 L1193.7 958.1 L1199.8 949.3 L1205.9 951.6 L1212.0 943.4 L1218.1 949.2 L1224.3 945.9 L1230.4 946.9 L1236.5 926.0 L1242.6 929.2 L1248.7 968.3 L1254.8 950.6 L1260.9 929.1 L1267.0 939.1 L1273.2 941.7 L1279.3 930.4 L1285.4 926.9 L1291.5 920.3 L1297.6 924.4 L1303.7 931.9 L1309.8 931.3 L1315.9 916.6 L1322.1 918.6 L1328.2 918.0 L1334.3 932.1 L1340.4 927.9 L1346.5 921.0 L1352.6 938.7 L1358.7 946.8 L1364.9 939.9 L1371.0 946.5 L1377.1 936.2 L1383.2 923.6 L1389.3 922.2 L1395.4 949.0 L1401.5 954.3 L1407.6 933.8 L1413.8 935.9 L1419.9 940.1 L1426.0 927.7" stroke="#9162d8" stroke-width="2.5" fill="none" stroke-linejoin="round"/></g><g clip-path="url(#dp)"><path d="M25.4 1129.8 L32.4 1130.8 L37.1 1133.2 L44.8 1118.4 L50.3 1113.4 L57.3 1114.2 L62.7 1116.9 L69.7 1109.9 L77.5 1106.5 L92.2 1115.8 L104.6 1097.8 L117.8 1105.2 L128.7 1102.4 L139.6 1106.0 L148.9 1111.4 L159.8 1116.9 L175.3 1118.4 L190.8 1120.7 L202.5 1124.6 L209.4 1118.4 L221.9 1125.4 L234.3 1131.6 L240.5 1139.4 L245.2 1140.2 L260.7 1130.8 L277.8 1132.4 L296.4 1135.5 L319.7 1138.6 L332.1 1135.5 L337.6 1120.7 L347.6 1123.1 L355.4 1116.9 L381.8 1123.9 L392.7 1118.4 L402.0 1122.3 L420.0 1127.7 L435.5 1130.8 L463.5 1136.3 L472.8 1128.8 L485.2 1127.3 L490.7 1129.8 L497.6 1125.4 L510.1 1120.7 L525.6 1124.6 L541.1 1126.6 L552.8 1115.3 L562.9 1119.2 L578.4 1123.9 L587.7 1130.1 L606.3 1132.4 L612.5 1122.6 L625.0 1125.7 L634.3 1120.7 L652.9 1125.4 L666.9 1120.0 L680.9 1122.6 L687.1 1117.6 L699.5 1122.3 L729.0 1130.8 L736.8 1128.5 L747.6 1131.9 L760.1 1125.1 L777.1 1128.5 L784.9 1109.9 L797.3 1114.2 L808.2 1102.1 L820.0 1107.5 L829.3 1114.5 L844.8 1120.7 L852.6 1111.7 L858.8 1115.8 L869.7 1116.1 L875.9 1114.8 L882.9 1116.9 L887.5 1113.0 L896.1 1116.9 L900.7 1115.3 L913.2 1120.4 L919.4 1115.3 L931.8 1121.5 L941.1 1120.7 L948.9 1122.3 L955.1 1102.9 L962.9 1106.0 L967.5 1101.3 L984.6 1109.1 L992.4 1108.0 L998.6 1111.1 L1018.8 1116.4 L1023.4 1116.4 L1040.5 1125.7 L1046.7 1128.2 L1052.9 1126.6 L1059.9 1128.2 L1065.3 1123.1 L1074.7 1122.3 L1084.0 1125.1 L1093.3 1115.3 L1101.8 1113.0 L1107.3 1118.4 L1119.7 1125.7 L1127.5 1120.7 L1146.1 1129.3 L1157.0 1128.8 L1162.4 1123.9 L1189.6 1133.5 L1195.8 1132.9 L1200.0 1129.7 L1211.7 1126.6 L1219.1 1128.1 L1230.3 1130.8 L1237.7 1119.7 L1242.5 1120.9 L1255.2 1127.1 L1262.7 1119.1 L1272.2 1122.8 L1285.0 1116.5 L1295.6 1118.6 L1309.4 1122.3 L1315.8 1119.1 L1323.2 1114.3 L1332.8 1117.0 L1346.6 1121.2 L1354.0 1124.4 L1362.5 1126.6 L1377.4 1130.3 L1382.7 1122.3 L1390.1 1119.7 L1395.4 1124.4 L1407.1 1125.0 L1415.6 1125.5 L1420.4 1121.2 L1428.3 1123.9" stroke="#43b64a" stroke-width="2.6" fill="none" stroke-linejoin="round"/><path d="M25.4 1095.9 L37.1 1092.8 L43.3 1094.7 L51.1 1097.8 L61.9 1100.6 L69.7 1104.0 L82.1 1109.1 L94.5 1113.8 L107.0 1116.1 L120.9 1117.6 L136.5 1116.4 L147.3 1116.4 L156.6 1118.4 L167.5 1121.5 L178.4 1125.4 L190.8 1128.2 L203.2 1129.3 L212.5 1130.8 L221.9 1127.7 L234.3 1119.2 L245.2 1104.4 L256.0 1096.7 L271.6 1086.6 L291.7 1076.5 L307.3 1069.5 L322.8 1063.3 L332.1 1061.7 L346.1 1067.2 L361.6 1074.9 L384.9 1085.0 L400.4 1095.1 L420.0 1102.9 L429.3 1104.4 L441.7 1103.7 L454.2 1101.8 L465.0 1099.0 L479.0 1102.1 L491.4 1106.0 L503.9 1111.4 L519.4 1116.9 L534.9 1121.5 L547.3 1124.6 L559.8 1123.1 L578.4 1127.0 L590.8 1120.7 L606.3 1114.8 L621.9 1117.3 L637.4 1121.5 L652.9 1124.6 L671.6 1128.5 L693.3 1132.4 L707.3 1130.8 L722.8 1127.0 L738.3 1120.0 L750.7 1114.5 L769.4 1113.0 L780.2 1113.0 L792.7 1116.9 L805.1 1119.2 L820.0 1116.9 L832.4 1120.0 L846.4 1123.9 L863.5 1127.3 L882.1 1127.7 L907.0 1127.7 L920.9 1129.3 L933.4 1131.6 L949.7 1134.7 L959.8 1129.3 L969.1 1124.6 L981.5 1118.9 L992.4 1117.3 L1006.3 1117.6 L1021.9 1118.9 L1031.2 1121.5 L1040.5 1120.7 L1052.9 1118.4 L1059.9 1117.6 L1071.6 1119.2 L1087.1 1122.3 L1099.5 1124.6 L1107.3 1126.2 L1119.7 1120.7 L1133.7 1116.1 L1149.2 1109.1 L1161.6 1106.0 L1174.0 1103.7 L1184.9 1099.8 L1197.3 1097.5 L1212.7 1097.9 L1230.8 1096.8 L1242.5 1103.2 L1249.9 1102.1 L1263.7 1104.3 L1279.7 1108.0 L1288.1 1112.2 L1300.9 1117.5 L1316.8 1120.7 L1330.6 1124.4 L1343.4 1128.1 L1354.0 1129.2 L1361.4 1128.1 L1377.4 1124.4 L1390.1 1127.6 L1401.8 1126.0 L1417.7 1126.0 L1428.3 1127.6" stroke="#ffeb3b" stroke-width="2.6" fill="none" stroke-linejoin="round"/><path d="M25.4 1100.6 L32.4 1102.1 L37.1 1095.1 L46.4 1101.3 L51.1 1103.7 L57.3 1104.4 L61.9 1100.6 L69.7 1106.8 L79.8 1112.2 L92.2 1104.0 L103.9 1114.5 L113.2 1113.0 L125.6 1117.6 L142.7 1124.6 L152.0 1120.7 L159.8 1114.2 L169.1 1115.3 L190.8 1121.5 L198.6 1113.8 L209.4 1117.6 L226.5 1088.1 L231.2 1087.4 L239.7 1054.8 L246.7 1062.5 L257.6 1073.4 L265.3 1076.5 L271.6 1075.7 L284.0 1078.0 L296.4 1080.4 L307.3 1081.9 L319.7 1080.7 L330.6 1084.3 L338.3 1092.8 L349.2 1095.9 L361.6 1102.1 L374.0 1105.2 L384.9 1109.1 L394.2 1116.9 L405.1 1120.7 L420.0 1117.6 L430.9 1118.4 L435.5 1112.2 L446.4 1113.8 L458.8 1114.2 L472.8 1120.4 L477.5 1116.9 L485.2 1120.0 L497.6 1119.2 L519.4 1126.2 L527.1 1127.7 L531.8 1124.6 L541.1 1123.9 L557.4 1129.3 L564.4 1116.9 L576.8 1117.6 L586.9 1103.4 L598.6 1106.0 L614.1 1112.2 L625.0 1115.3 L649.0 1122.3 L654.5 1109.1 L663.8 1115.3 L674.7 1118.4 L680.9 1116.9 L693.3 1120.7 L698.0 1114.5 L708.8 1113.0 L718.1 1109.1 L722.8 1112.2 L730.6 1101.3 L735.2 1104.4 L742.2 1100.6 L749.2 1104.4 L764.7 1110.7 L777.1 1111.4 L786.5 1118.4 L797.3 1115.3 L808.2 1123.9 L820.0 1122.3 L827.8 1120.0 L832.4 1114.8 L840.2 1115.3 L852.6 1120.0 L857.3 1118.4 L871.2 1121.5 L879.0 1123.9 L888.3 1125.4 L896.1 1124.2 L908.5 1125.4 L913.2 1122.3 L920.9 1124.6 L929.5 1118.0 L941.1 1122.3 L948.9 1124.2 L955.1 1128.5 L967.5 1131.3 L979.9 1131.6 L985.4 1124.6 L992.4 1126.6 L997.0 1122.0 L1021.9 1127.7 L1031.2 1118.9 L1035.1 1117.6 L1039.7 1105.2 L1045.2 1106.8 L1052.1 1110.7 L1059.1 1111.4 L1077.8 1117.6 L1084.0 1118.4 L1096.4 1123.9 L1102.6 1124.6 L1114.3 1098.2 L1119.7 1092.8 L1129.0 1097.1 L1132.1 1097.5 L1139.9 1090.0 L1150.8 1098.2 L1157.0 1099.8 L1163.2 1102.9 L1169.4 1100.6 L1175.6 1103.7 L1183.4 1098.2 L1192.7 1099.8 L1200.0 1103.7 L1212.2 1108.5 L1217.0 1105.3 L1227.6 1110.1 L1242.5 1116.5 L1249.9 1098.9 L1266.9 1109.0 L1285.0 1114.9 L1297.7 1117.0 L1305.1 1112.7 L1314.7 1116.5 L1324.3 1121.2 L1334.9 1117.5 L1348.7 1118.6 L1364.6 1111.7 L1390.1 1121.8 L1394.9 1109.0 L1401.8 1111.2 L1407.1 1114.9 L1414.5 1116.5 L1419.8 1119.1 L1428.3 1118.1" stroke="#e3302f" stroke-width="2.6" fill="none" stroke-linejoin="round"/></g><text x="2825" y="156.9" font-size="30.5" fill="#b2b5be" text-anchor="start" font-weight="normal" textLength="76" lengthAdjust="spacingAndGlyphs" stroke="#b2b5be" stroke-width="0.5">220.0</text><text x="2825" y="272.1" font-size="30.5" fill="#b2b5be" text-anchor="start" font-weight="normal" textLength="76" lengthAdjust="spacingAndGlyphs" stroke="#b2b5be" stroke-width="0.5">200.0</text><text x="2825" y="399.0" font-size="30.5" fill="#b2b5be" text-anchor="start" font-weight="normal" textLength="76" lengthAdjust="spacingAndGlyphs" stroke="#b2b5be" stroke-width="0.5">180.0</text><text x="2825" y="540.8" font-size="30.5" fill="#b2b5be" text-anchor="start" font-weight="normal" textLength="76" lengthAdjust="spacingAndGlyphs" stroke="#b2b5be" stroke-width="0.5">160.0</text><text x="2825" y="718.8" font-size="30.5" fill="#b2b5be" text-anchor="start" font-weight="normal" textLength="76" lengthAdjust="spacingAndGlyphs" stroke="#b2b5be" stroke-width="0.5">138.0</text><text x="2825" y="809.9" font-size="30.5" fill="#b2b5be" text-anchor="start" font-weight="normal" textLength="76" lengthAdjust="spacingAndGlyphs" stroke="#b2b5be" stroke-width="0.5">128.0</text><path d="M2801 455H2909a6 6 0 0 1 6 6V492.4a6 6 0 0 1-6 6H2801Z" fill="#2f7bf5"/><text x="2826" y="488.7" font-size="30.5" fill="#ffffff" text-anchor="start" font-weight="normal" textLength="76" lengthAdjust="spacingAndGlyphs" stroke="#ffffff" stroke-width="0.5">167.0</text><path d="M2801 531H2909a6 6 0 0 1 6 6V568.5a6 6 0 0 1-6 6H2801Z" fill="#2f7bf5"/><text x="2826" y="564.75" font-size="30.5" fill="#ffffff" text-anchor="start" font-weight="normal" textLength="76" lengthAdjust="spacingAndGlyphs" stroke="#ffffff" stroke-width="0.5">156.8</text><path d="M2801 592H2909a6 6 0 0 1 6 6V629.6a6 6 0 0 1-6 6H2801Z" fill="#26a69a"/><text x="2826" y="625.8" font-size="30.5" fill="#ffffff" text-anchor="start" font-weight="normal" textLength="76" lengthAdjust="spacingAndGlyphs" stroke="#ffffff" stroke-width="0.5">149.1</text><path d="M2801 638H2909a6 6 0 0 1 6 6V675.6a6 6 0 0 1-6 6H2801Z" fill="#5b9cf6"/><text x="2826" y="671.8" font-size="30.5" fill="#131722" text-anchor="start" font-weight="normal" textLength="76" lengthAdjust="spacingAndGlyphs" stroke="#131722" stroke-width="0.5">143.5</text><rect x="2837" y="83" width="86.5" height="46" rx="10" fill="none" stroke="#363a45" stroke-width="2"/><text x="2846" y="114.6" font-size="30.5" fill="#b2b5be" text-anchor="start" font-weight="normal" textLength="68" lengthAdjust="spacingAndGlyphs" stroke="#b2b5be" stroke-width="0.5">USDT</text><text x="2825" y="972.6" font-size="30.5" fill="#b2b5be" text-anchor="start" font-weight="normal" textLength="76" lengthAdjust="spacingAndGlyphs" stroke="#b2b5be" stroke-width="0.5">40.00</text><text x="2825" y="1091.4" font-size="30.5" fill="#b2b5be" text-anchor="start" font-weight="normal" textLength="107" lengthAdjust="spacingAndGlyphs" stroke="#b2b5be" stroke-width="0.5">40.0000</text><text x="118.2" y="1196.5" font-size="30.5" fill="#b2b5be" text-anchor="middle" font-weight="normal" textLength="48" lengthAdjust="spacingAndGlyphs" stroke="#b2b5be" stroke-width="0.5">Dec</text><text x="337.7" y="1196.5" font-size="30.5" fill="#b2b5be" text-anchor="middle" font-weight="normal" textLength="16" lengthAdjust="spacingAndGlyphs" stroke="#b2b5be" stroke-width="0.5">7</text><text x="557.8" y="1196.5" font-size="30.5" fill="#b2b5be" text-anchor="middle" font-weight="normal" textLength="31" lengthAdjust="spacingAndGlyphs" stroke="#b2b5be" stroke-width="0.5">13</text><text x="814.6" y="1196.5" font-size="30.5" fill="#b2b5be" text-anchor="middle" font-weight="normal" textLength="32" lengthAdjust="spacingAndGlyphs" stroke="#b2b5be" stroke-width="0.5">20</text><text x="1034.8" y="1196.5" font-size="30.5" fill="#b2b5be" text-anchor="middle" font-weight="normal" textLength="32" lengthAdjust="spacingAndGlyphs" stroke="#b2b5be" stroke-width="0.5">26</text><text x="1254.9" y="1196.5" font-size="30.5" fill="#b2b5be" text-anchor="middle" font-weight="bold" textLength="70" lengthAdjust="spacingAndGlyphs">2022</text><text x="1584.4" y="1196.5" font-size="30.5" fill="#b2b5be" text-anchor="middle" font-weight="normal" textLength="31" lengthAdjust="spacingAndGlyphs" stroke="#b2b5be" stroke-width="0.5">10</text><text x="1841.4" y="1196.5" font-size="30.5" fill="#b2b5be" text-anchor="middle" font-weight="normal" textLength="32" lengthAdjust="spacingAndGlyphs" stroke="#b2b5be" stroke-width="0.5">17</text><text x="2098.4" y="1196.5" font-size="30.5" fill="#b2b5be" text-anchor="middle" font-weight="normal" textLength="32" lengthAdjust="spacingAndGlyphs" stroke="#b2b5be" stroke-width="0.5">24</text><text x="2392.5" y="1196.5" font-size="30.5" fill="#b2b5be" text-anchor="middle" font-weight="normal" textLength="48" lengthAdjust="spacingAndGlyphs" stroke="#b2b5be" stroke-width="0.5">Feb</text><text x="2612.5" y="1196.5" font-size="30.5" fill="#b2b5be" text-anchor="middle" font-weight="normal" textLength="16" lengthAdjust="spacingAndGlyphs" stroke="#b2b5be" stroke-width="0.5">7</text><g fill="#d1d4dc"><path d="M25 1251.3H44.4V1275.7H34.2V1261H25Z"/><circle cx="53.6" cy="1256.3" r="5.2"/><path d="M61 1251.3H74L65.6 1275.7H53.3Z"/></g><text x="83" y="1276.6" font-size="33" fill="#d1d4dc" text-anchor="start" font-weight="normal" textLength="176" lengthAdjust="spacingAndGlyphs" stroke="#d1d4dc" stroke-width="0.5">TradingView</text></svg></body></html>
